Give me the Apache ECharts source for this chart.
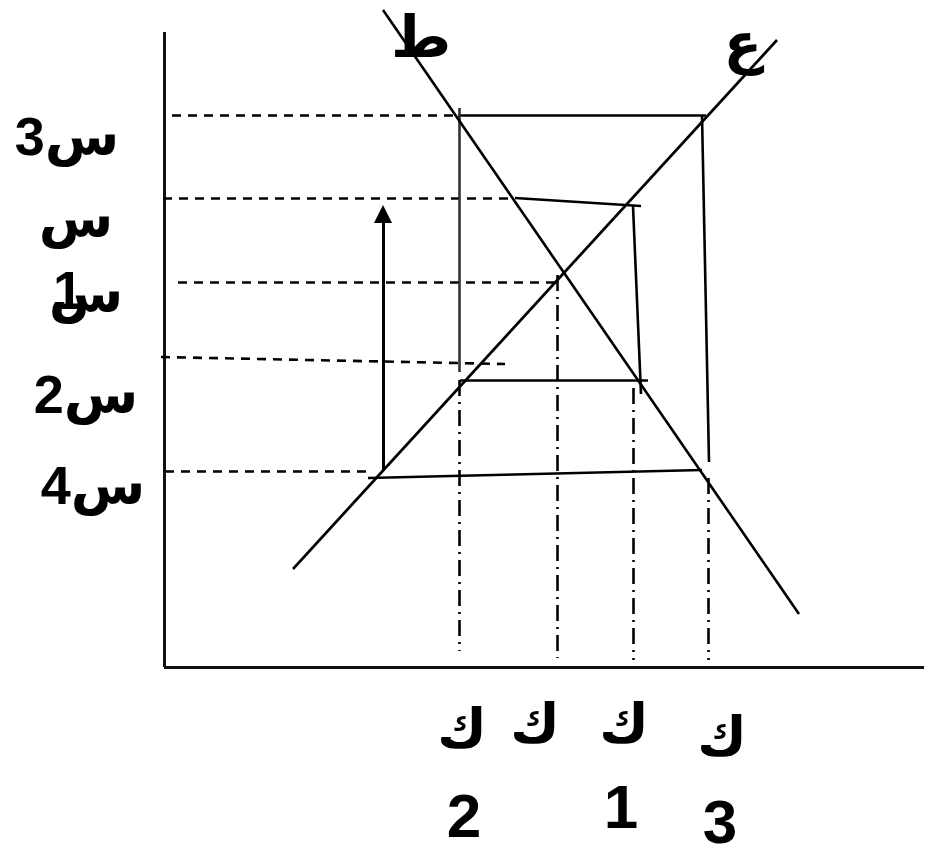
<!DOCTYPE html>
<html>
<head>
<meta charset="utf-8">
<script src="https://cdn.jsdelivr.net/npm/echarts@6/dist/echarts.min.js"></script>
<style>
html,body{margin:0;padding:0;background:#ffffff;}
#c{width:934px;height:852px;}
</style>
</head>
<body>
<div id="c"></div>
<script>
// ---- data (quantity / price units; origin at the axes corner) ----
const demandCurve = [[21.9, 65.7], [63.5, 5.3]];          // ط
const supplyCurve = [[12.9, 9.8], [61.3, 62.7]];          // ع
const axisQ = [[0, 0], [76.0, 0]];
const axisP = [[0, 0], [0, 63.5]];

// dashed guides from the price axis
const dashedGuides = [
  [[0.8, 55.2], [29.4, 55.2]],
  [[-0.1, 46.9], [35.1, 46.9]],
  [[1.4, 38.5], [39.1, 38.5]],
  [[-0.3, 31.0], [34.1, 30.3]],
  [[0.1, 19.6], [20.6, 19.6]]
];

// solid cobweb segments
const cobwebSegments = [
  [[29.4, 55.2], [54.2, 55.2]],
  [[35.1, 46.9], [47.7, 46.1]],
  [[46.9, 46.1], [47.7, 27.3]],
  [[29.6, 28.7], [48.4, 28.7]],
  [[53.8, 55.2], [54.5, 20.5]],
  [[20.4, 18.9], [53.8, 19.7]]
];
const greySegments = [
  [[29.5, 55.9], [29.5, 29.5]]
];

// dash-dot drops to the quantity axis
const dropLines = [
  [[29.5, 28.7], [29.5, 1.6]],
  [[39.3, 39.2], [39.3, 0.9]],
  [[46.9, 27.9], [46.9, 0.7]],
  [[54.4, 18.9], [54.4, 0.7]]
];

const arrowLine = [[21.9, 19.7], [21.9, 45.3]];

// text labels
const curveLabels = [
  {text: 'ط', pos: [25.7, 62.6], size: 58},
  {text: 'ع', pos: [57.9, 62.0], size: 56}
];
const priceLabels = [
  {text: 'س3', pos: [-9.7, 52.7], size: 54},
  {text: 'س', pos: [-8.8, 44.5], size: 54},
  {text: '1', pos: [-9.6, 37.3], size: 54},
  {text: 'س', pos: [-7.8, 37.0], size: 54},
  {text: 'س2', pos: [-7.8, 26.9], size: 54},
  {text: 'س4', pos: [-7.1, 17.8], size: 54}
];
const qtyLetterLabels = [
  {text: 'ك', pos: [29.8, -6.5], size: 54},
  {text: 'ك', pos: [37.1, -6.0], size: 54},
  {text: 'ك', pos: [46.0, -6.0], size: 54},
  {text: 'ك', pos: [55.8, -7.3], size: 54}
];
const qtyDigitLabels = [
  {text: '2', pos: [30.0, -15.3], size: 62},
  {text: '1', pos: [45.7, -14.4], size: 62},
  {text: '3', pos: [55.6, -15.9], size: 62}
];

// ---- chart ----
const FONT = '"Liberation Sans", Arial, "DejaVu Sans", sans-serif';
function segs(list, style) {
  return list.map(c => ({coords: c, lineStyle: Object.assign({opacity: 1}, style)}));
}
function labelSeries(list) {
  return {
    type: 'scatter',
    silent: true,
    symbolSize: 0,
    z: 10,
    itemStyle: {opacity: 1},
    data: list.map(l => ({
      value: l.pos,
      label: {
        show: true,
        position: 'inside',
        formatter: l.text,
        color: '#000',
        opacity: 1,
        fontSize: l.size,
        fontWeight: 'bold',
        fontFamily: FONT
      }
    }))
  };
}
const black = '#000';
const W = 2.6;
const chart = echarts.init(document.getElementById('c'), null, {renderer: 'canvas'});
chart.setOption({
  backgroundColor: '#ffffff',
  animation: false,
  grid: {left: 0, right: 0, top: 0, bottom: 0},
  xAxis: {type: 'value', min: -16.4, max: 77.0, show: false},
  yAxis: {type: 'value', min: -18.5, max: 66.7, show: false},
  series: [
    {type: 'line', name: 'ط', data: demandCurve, symbol: 'none', lineStyle: {color: black, width: W, opacity: 1}},
    {type: 'line', name: 'ع', data: supplyCurve, symbol: 'none', lineStyle: {color: black, width: W, opacity: 1}},
    {type: 'lines', coordinateSystem: 'cartesian2d', silent: true,
      data: segs([axisQ, axisP], {color: '#111', width: 3, type: 'solid'})},
    {type: 'lines', coordinateSystem: 'cartesian2d', silent: true,
      data: segs(dashedGuides, {color: black, width: W, type: [9, 7]})},
    {type: 'lines', coordinateSystem: 'cartesian2d', silent: true,
      data: segs(cobwebSegments, {color: black, width: W, type: 'solid'})},
    {type: 'lines', coordinateSystem: 'cartesian2d', silent: true,
      data: segs(greySegments, {color: '#333', width: W, type: 'solid'})},
    {type: 'lines', coordinateSystem: 'cartesian2d', silent: true,
      data: segs(dropLines, {color: black, width: W, type: [16, 6, 2, 6]})},
    {type: 'lines', coordinateSystem: 'cartesian2d', silent: true,
      symbol: ['none', 'triangle'], symbolSize: [0, 18],
      data: segs([arrowLine], {color: black, width: 3, type: 'solid'})},
    labelSeries(curveLabels),
    labelSeries(priceLabels),
    labelSeries(qtyLetterLabels),
    labelSeries(qtyDigitLabels)
  ]
});
</script>
</body>
</html>
